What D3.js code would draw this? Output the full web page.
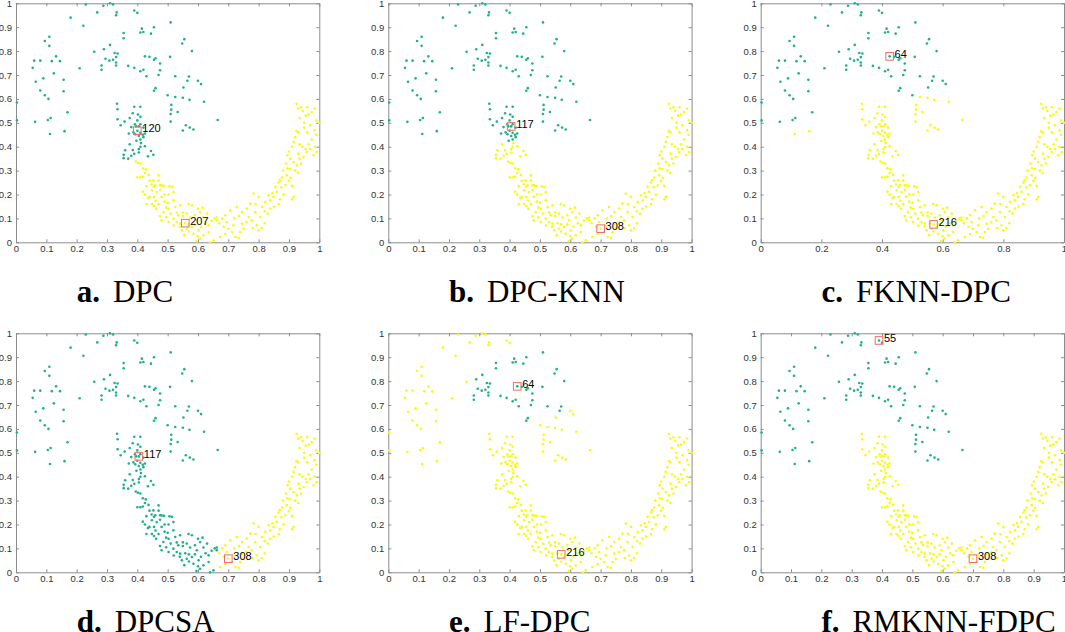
<!DOCTYPE html>
<html><head><meta charset="utf-8">
<script src="https://cdn.jsdelivr.net/npm/d3@7"></script>
<style>body{margin:0;background:#fff}svg{display:block}</style>
</head><body>
<svg id="c" width="1065" height="632"></svg>
<script>
// ---- data (same dataset in every panel) ----
const upperLeft = [[0.003,0.585],[0.003,0.51],[0.055,0.73],[0.06,0.76],[0.08,0.76],[0.065,0.672],[0.08,0.635],[0.09,0.686],[0.095,0.615],[0.107,0.6],[0.095,0.842],[0.11,0.86],[0.11,0.822],[0.118,0.758],[0.132,0.778],[0.145,0.758],[0.125,0.707],[0.157,0.68],[0.157,0.632],[0.17,0.544],[0.063,0.504],[0.105,0.512],[0.114,0.52]];
const upperLeftLow = [[0.112,0.453],[0.16,0.465]];
const upperTop = [[0.18,0.94],[0.222,0.906],[0.21,0.728],[0.23,0.995],[0.258,0.797],[0.268,0.962],[0.288,0.99],[0.31,1.0],[0.32,0.995],[0.33,0.95],[0.332,0.962],[0.39,0.97],[0.4,0.96]];
const upperCore = [[0.282,0.74],[0.282,0.722],[0.29,0.808],[0.295,0.768],[0.31,0.826],[0.308,0.76],[0.32,0.764],[0.325,0.792],[0.335,0.79],[0.33,0.775],[0.33,0.752],[0.33,0.74],[0.355,0.876],[0.355,0.854],[0.37,0.738],[0.39,0.73],[0.41,0.716],[0.42,0.722],[0.43,0.695],[0.41,0.878],[0.415,0.894],[0.42,0.88],[0.445,0.873],[0.455,0.9],[0.425,0.778],[0.44,0.776],[0.455,0.764],[0.46,0.77],[0.475,0.748],[0.475,0.72],[0.47,0.7],[0.46,0.645],[0.455,0.634],[0.51,0.92],[0.508,0.776],[0.548,0.832],[0.555,0.85],[0.58,0.8],[0.525,0.695],[0.57,0.694],[0.565,0.676]];
const upperRightA = [[0.5,0.615],[0.552,0.648],[0.6,0.676],[0.61,0.662]];
const upperRightB = [[0.525,0.608],[0.55,0.605],[0.572,0.596],[0.62,0.588],[0.512,0.575],[0.512,0.555],[0.51,0.537],[0.51,0.505],[0.533,0.545],[0.55,0.468],[0.56,0.49],[0.573,0.48],[0.585,0.472],[0.665,0.512]];
const neckHigh = [[0.333,0.58],[0.335,0.557],[0.335,0.515],[0.345,0.49],[0.358,0.505],[0.375,0.52],[0.385,0.54],[0.39,0.567],[0.402,0.535],[0.41,0.567],[0.41,0.525],[0.4,0.51],[0.392,0.494],[0.38,0.482],[0.387,0.46],[0.396,0.485],[0.405,0.485],[0.41,0.494],[0.42,0.48],[0.4,0.467],[0.41,0.458],[0.418,0.45],[0.42,0.44],[0.405,0.445],[0.393,0.452],[0.372,0.455],[0.425,0.455],[0.41,0.43],[0.397,0.425]];
const neckLow = [[0.375,0.41],[0.385,0.386],[0.39,0.37],[0.405,0.376],[0.41,0.4],[0.412,0.415],[0.405,0.39],[0.435,0.36],[0.445,0.382],[0.453,0.366],[0.355,0.366],[0.355,0.352],[0.37,0.35],[0.38,0.362],[0.425,0.402],[0.36,0.385]];
const lowerLeft = [[0.395,0.338],[0.402,0.333],[0.41,0.33],[0.418,0.31],[0.425,0.29],[0.4,0.272],[0.41,0.272],[0.418,0.275],[0.437,0.282],[0.428,0.305],[0.44,0.258],[0.447,0.242],[0.455,0.232],[0.47,0.28],[0.453,0.259],[0.459,0.239],[0.475,0.239],[0.488,0.236],[0.506,0.234],[0.514,0.232],[0.418,0.212],[0.425,0.2],[0.448,0.218],[0.464,0.21],[0.475,0.22],[0.435,0.185],[0.455,0.19],[0.48,0.19],[0.503,0.2],[0.519,0.21],[0.43,0.16],[0.448,0.16],[0.455,0.152],[0.47,0.16],[0.49,0.17],[0.519,0.176],[0.462,0.14],[0.486,0.127],[0.503,0.14],[0.525,0.148],[0.541,0.155],[0.475,0.11],[0.48,0.092],[0.495,0.105],[0.503,0.085],[0.519,0.099],[0.535,0.113],[0.53,0.085],[0.541,0.078],[0.563,0.12],[0.569,0.16],[0.58,0.155],[0.574,0.104],[0.59,0.113],[0.596,0.092],[0.607,0.127],[0.618,0.104],[0.547,0.05],[0.563,0.057],[0.58,0.064],[0.585,0.036],[0.602,0.05],[0.607,0.015],[0.618,0.029],[0.635,0.043],[0.635,0.071],[0.651,0.008],[0.655,0.1],[0.645,0.09],[0.558,0.08],[0.57,0.075],[0.52,0.07],[0.54,0.065],[0.555,0.03],[0.57,0.045],[0.59,0.075],[0.6,0.14],[0.615,0.145],[0.63,0.12],[0.625,0.08],[0.61,0.065],[0.595,0.005],[0.6,0.025],[0.64,0.0],[0.55,0.11],[0.55,0.125],[0.53,0.125],[0.51,0.12],[0.495,0.145],[0.5,0.165],[0.46,0.175],[0.49,0.2],[0.44,0.19],[0.43,0.235],[0.47,0.258],[0.48,0.238],[0.662,0.092],[0.662,0.104]];
const lowerRight = [[0.673,0.022],[0.69,0.113],[0.695,0.085],[0.706,0.134],[0.7,0.057],[0.712,0.043],[0.717,0.071],[0.723,0.022],[0.734,0.019],[0.739,0.043],[0.745,0.078],[0.75,0.057],[0.728,0.148],[0.745,0.127],[0.761,0.141],[0.772,0.162],[0.783,0.204],[0.789,0.127],[0.794,0.071],[0.8,0.05],[0.777,0.092],[0.767,0.106],[0.68,0.1],[0.685,0.065],[0.69,0.035],[0.67,0.08],[0.72,0.1],[0.735,0.11],[0.76,0.085],[0.78,0.06],[0.79,0.16],[0.8,0.19],[0.805,0.106],[0.811,0.148],[0.822,0.169],[0.833,0.197],[0.838,0.176],[0.838,0.141],[0.849,0.19],[0.855,0.232],[0.86,0.211],[0.866,0.25],[0.866,0.16],[0.877,0.271],[0.882,0.2],[0.888,0.239],[0.893,0.281],[0.899,0.257],[0.904,0.307],[0.915,0.19],[0.91,0.18],[0.91,0.236],[0.82,0.13],[0.83,0.12],[0.85,0.15],[0.87,0.18],[0.845,0.205],[0.875,0.23],[0.88,0.3],[0.89,0.33],[0.895,0.364],[0.904,0.35],[0.915,0.336],[0.926,0.322],[0.931,0.371],[0.948,0.357],[0.959,0.378],[0.981,0.364],[0.992,0.378],[0.97,0.39],[0.9,0.38],[0.91,0.4],[0.915,0.42],[0.92,0.44],[0.925,0.465],[0.93,0.46],[0.935,0.41],[0.945,0.4],[0.955,0.39],[0.965,0.41],[0.975,0.43],[0.985,0.4],[0.99,0.45],[0.985,0.47],[0.96,0.46],[0.95,0.48],[0.95,0.5],[0.955,0.53],[0.965,0.535],[0.975,0.545],[0.97,0.49],[0.99,0.51],[1.0,0.5],[0.985,0.56],[0.96,0.565],[0.94,0.565],[0.925,0.58],[0.93,0.56],[0.945,0.55],[0.935,0.52],[0.92,0.3],[0.905,0.27],[0.93,0.29],[0.94,0.33],[0.935,0.35],[0.895,0.31],[0.87,0.26],[0.82,0.08],[0.81,0.06]];

const groupNames = ["upperLeft","upperLeftLow","upperTop","upperCore","upperRightA","upperRightB","neckHigh","neckLow","lowerLeft","lowerRight"];
const groupPoints = [upperLeft,upperLeftLow,upperTop,upperCore,upperRightA,upperRightB,neckHigh,neckLow,lowerLeft,lowerRight];

// per panel: which groups are drawn in the green cluster (others yellow)
const panelLetters = ["a.","b.","c.","d.","e.","f."];
const panelNames = ["DPC","DPC-KNN","FKNN-DPC","DPCSA","LF-DPC","RMKNN-FDPC"];
const greenGroups = [
  ["upperLeft","upperLeftLow","upperTop","upperCore","upperRightA","upperRightB","neckHigh","neckLow"],
  ["upperLeft","upperLeftLow","upperTop","upperCore","upperRightA","upperRightB","neckHigh"],
  ["upperLeft","upperTop","upperCore","upperRightA"],
  ["upperLeft","upperLeftLow","upperTop","upperCore","upperRightA","upperRightB","neckHigh","neckLow","lowerLeft"],
  ["upperCore"],
  ["upperLeft","upperLeftLow","upperTop","upperCore","upperRightA","upperRightB"]
];
const centerIds = [["120","207"],["117","308"],["64","216"],["117","308"],["64","216"],["55","308"]];
const centerX = [[0.4,0.558],[0.405,0.7],[0.425,0.57],[0.405,0.7],[0.425,0.57],[0.39,0.7]];
const centerY = [[0.467,0.08],[0.485,0.057],[0.778,0.075],[0.485,0.057],[0.778,0.075],[0.97,0.057]];
const ticksFine = [0,0.1,0.2,0.3,0.4,0.5,0.6,0.7,0.8,0.9,1];
const ticksCoarse = [0,0.2,0.4,0.6,0.8,1];
const panelXTicks = [ticksFine,ticksFine,ticksCoarse,ticksFine,ticksFine,ticksFine];

// ---- layout ----
const colLeft = [16,388.3,760.7];
const rowTop = [3.3,333.3];
const W = 303.3, H = 239;
const GREEN = "#1fb08c", YELLOW = "#f9fb0e";
const fmt = d => d===0 ? "0" : d===1 ? "1" : String(d);

const svg = d3.select("#c");
panelNames.forEach((name,i)=>{
  const col = i%3, row = Math.floor(i/3);
  const g = svg.append("g").attr("transform",`translate(${colLeft[col]},${rowTop[row]})`);
  const x = d3.scaleLinear().domain([0,1]).range([0,W]);
  const y = d3.scaleLinear().domain([0,1]).range([H,0]);

  const axStyle = sel => {
    sel.select(".domain").attr("stroke","#8c8c8c");
    sel.selectAll(".tick line").attr("stroke","#8c8c8c");
    sel.selectAll("text").attr("fill","#333").attr("font-family","Liberation Sans, Arial, sans-serif").attr("font-size","9.5px");
  };
  g.append("g").attr("transform",`translate(0,${H})`)
    .call(d3.axisBottom(x).tickValues(panelXTicks[i]).tickSizeInner(-3).tickSizeOuter(0).tickPadding(3).tickFormat(fmt)).call(axStyle);
  g.append("g").call(d3.axisLeft(y).tickValues(ticksFine).tickSizeInner(-3).tickSizeOuter(0).tickPadding(4).tickFormat(fmt)).call(axStyle);
  g.append("g").call(d3.axisTop(x).tickValues(panelXTicks[i]).tickSizeInner(-3).tickSizeOuter(0).tickFormat("")).call(axStyle);
  g.append("g").attr("transform",`translate(${W},0)`).call(d3.axisRight(y).tickValues(ticksFine).tickSizeInner(-3).tickSizeOuter(0).tickFormat("")).call(axStyle);

  const pts = [];
  groupPoints.forEach((arr,k)=>{
    const green = greenGroups[i].includes(groupNames[k]);
    arr.forEach(p=>pts.push({x:p[0],y:p[1],c:green?GREEN:YELLOW}));
  });
  g.append("g").selectAll("circle").data(pts).join("circle")
    .attr("cx",d=>x(d.x)).attr("cy",d=>y(d.y)).attr("r",1.3).attr("fill",d=>d.c);

  centerIds[i].forEach((id,k)=>{
    const cx = x(centerX[i][k]), cy = y(centerY[i][k]);
    g.append("rect").attr("x",cx-3.8).attr("y",cy-3.8).attr("width",7.6).attr("height",7.6)
      .attr("fill","none").attr("stroke","#f26b6b").attr("stroke-width",1);
    g.append("text").attr("x",cx+5).attr("y",cy+1.5).attr("font-family","Liberation Sans, Arial, sans-serif")
      .attr("font-size","11px").attr("fill","#000").text(id);
  });

  const t = svg.append("text").attr("x",colLeft[col]+60.7).attr("y",rowTop[row]+298.4)
    .attr("font-family","Liberation Serif, Times New Roman, serif").attr("font-size","31px").attr("fill","#000");
  t.append("tspan").attr("font-weight","bold").text(panelLetters[i]);
  t.append("tspan").attr("dx","13").text(name);
});
</script>
</body></html>
